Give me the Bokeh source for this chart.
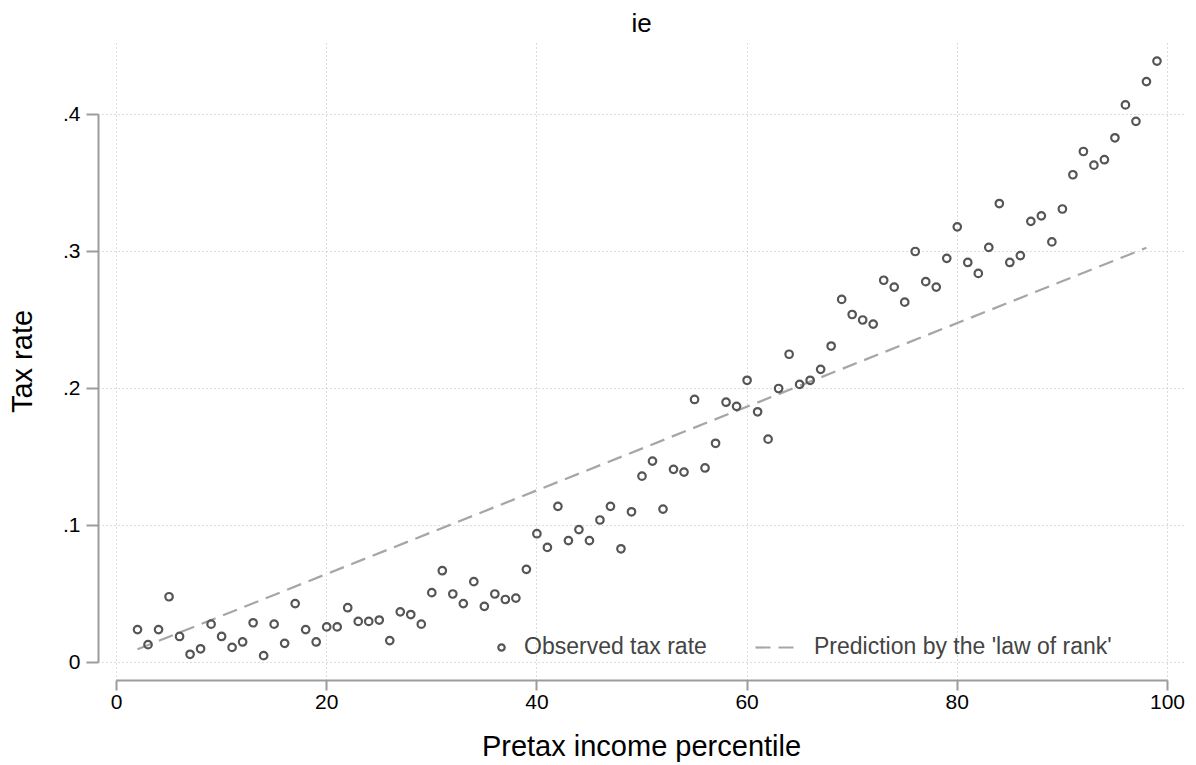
from bokeh.plotting import figure
from bokeh.models import Range1d, FixedTicker, Legend, LegendItem
from bokeh.embed import file_html
from bokeh.resources import INLINE

# ---- data ----
percentile = list(range(2, 100))
tax_rate = [
    0.024, 0.013, 0.024, 0.048, 0.019, 0.006, 0.010, 0.028, 0.019,   # 2-10
    0.011, 0.015, 0.029, 0.005, 0.028, 0.014, 0.043, 0.024, 0.015, 0.026,  # 11-20
    0.026, 0.040, 0.030, 0.030, 0.031, 0.016, 0.037, 0.035, 0.028, 0.051,  # 21-30
    0.067, 0.050, 0.043, 0.059, 0.041, 0.050, 0.046, 0.047, 0.068, 0.094,  # 31-40
    0.084, 0.114, 0.089, 0.097, 0.089, 0.104, 0.114, 0.083, 0.110, 0.136,  # 41-50
    0.147, 0.112, 0.141, 0.139, 0.192, 0.142, 0.160, 0.190, 0.187, 0.206,  # 51-60
    0.183, 0.163, 0.200, 0.225, 0.203, 0.206, 0.214, 0.231, 0.265, 0.254,  # 61-70
    0.250, 0.247, 0.279, 0.274, 0.263, 0.300, 0.278, 0.274, 0.295, 0.318,  # 71-80
    0.292, 0.284, 0.303, 0.335, 0.292, 0.297, 0.322, 0.326, 0.307, 0.331,  # 81-90
    0.356, 0.373, 0.363, 0.367, 0.383, 0.407, 0.395, 0.424, 0.439,        # 91-99
]
pred_x = [2, 98]
pred_y = [0.0097, 0.3027]

x_ticks = [0, 20, 40, 60, 80, 100]
y_ticks = [0, 0.1, 0.2, 0.3, 0.4]
y_tick_labels = ["0", ".1", ".2", ".3", ".4"]

title_text = "ie"
x_title = "Pretax income percentile"
y_title = "Tax rate"
series_labels = ["Observed tax rate", "Prediction by the 'law of rank'"]

# ---- styling ----
FONT = "Liberation Sans"
AXIS_COL = "#9c9c9c"
GRID_COL = "#b8b8b8"
MARK_COL = "#555555"
LINE_COL = "#a6a6a6"

p = figure(width=1196, height=765, output_backend="svg", toolbar_location=None,
           x_range=Range1d(-1.713, 101.62), y_range=Range1d(-0.01314, 0.45255),
           min_border_left=98, min_border_right=12, min_border_top=42,
           min_border_bottom=85,
           background_fill_color="white", border_fill_color="white")
p.outline_line_color = None

p.title.text = title_text
p.title.align = "center"
p.title.text_font = FONT
p.title.text_font_size = "26px"
p.title.text_font_style = "normal"
p.title.text_color = "black"
p.title.standoff = 10

for ax in (p.xaxis[0], p.yaxis[0]):
    ax.axis_line_color = AXIS_COL
    ax.axis_line_width = 2
    ax.major_tick_line_color = AXIS_COL
    ax.major_tick_line_width = 2
    ax.major_tick_in = 0
    ax.minor_tick_line_color = None
    ax.major_label_text_font = FONT
    ax.major_label_text_font_size = "21px"
    ax.major_label_text_color = "black"
    ax.axis_label_text_font = FONT
    ax.axis_label_text_font_size = "29px"
    ax.axis_label_text_font_style = "normal"
    ax.axis_label_text_color = "black"

p.xaxis.ticker = FixedTicker(ticks=x_ticks)
p.yaxis.ticker = FixedTicker(ticks=y_ticks)
p.yaxis.major_label_overrides = {t: l for t, l in zip(y_ticks, y_tick_labels)}
p.xaxis.bounds = (x_ticks[0], x_ticks[-1])
p.yaxis.bounds = (y_ticks[0], y_ticks[-1])
p.xaxis.major_tick_out = 10
p.yaxis.major_tick_out = 12
p.xaxis.major_label_standoff = 4
p.yaxis.major_label_standoff = 6
p.xaxis.axis_label = x_title
p.yaxis.axis_label = y_title
p.xaxis.axis_label_standoff = 18
p.yaxis.axis_label_standoff = 22

for g in (p.xgrid[0], p.ygrid[0]):
    g.grid_line_color = GRID_COL
    g.grid_line_width = 1
    g.grid_line_dash = "1 3"

r_line = p.line(pred_x, pred_y, line_color=LINE_COL, line_width=2.2, line_dash="15 8")
r_pts = p.scatter(percentile, tax_rate, marker="circle", size=7.5,
                  fill_color=None, line_color=MARK_COL, line_width=2.2)

leg_a = Legend(items=[LegendItem(label=series_labels[0], renderers=[r_pts])],
               location=(395, 20), orientation="horizontal",
               glyph_width=16, glyph_height=20, label_standoff=15,
               padding=0, margin=0, border_line_color=None,
               background_fill_alpha=0,
               label_text_font=FONT, label_text_font_size="23px")
leg_b = Legend(items=[LegendItem(label=series_labels[1], renderers=[r_line])],
               location=(657, 20), orientation="horizontal",
               glyph_width=41, glyph_height=20, label_standoff=18,
               padding=0, margin=0, border_line_color=None,
               background_fill_alpha=0,
               label_text_font=FONT, label_text_font_size="23px")
p.add_layout(leg_a)
p.add_layout(leg_b)

open("out.html", "w").write(file_html(p, INLINE))
